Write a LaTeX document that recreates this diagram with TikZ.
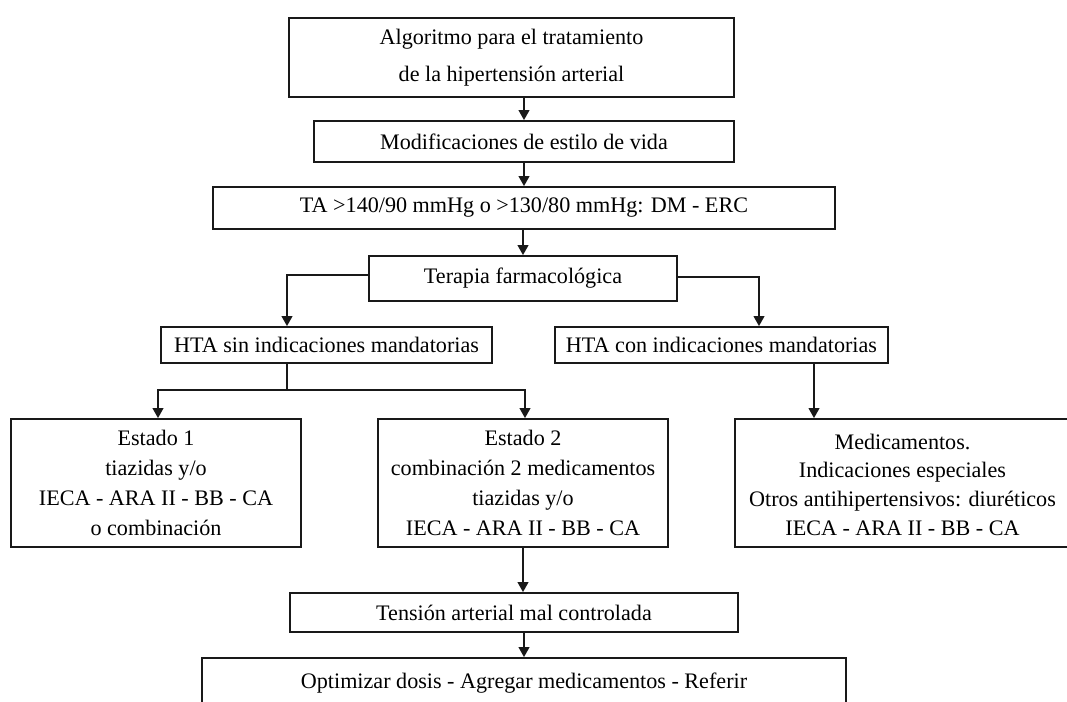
\documentclass[tikz,border=0pt]{standalone}
\usepackage{fontspec}
\setmainfont{Liberation Serif}
\usetikzlibrary{arrows.meta,calc}
\begin{document}
\begin{tikzpicture}[x=0.75pt,y=-0.75pt,
  box/.style={draw=black!90, line width=1.3pt, inner sep=0pt, align=center,
    font=\fontsize{16.6}{22.5}\selectfont},
  sz/.style 2 args={minimum width=#1*0.75pt, minimum height=#2*0.75pt},
  ln/.style={draw=black!90, line width=1.3pt},
  arr/.style={ln, -{Triangle[length=7.5pt,width=8pt]}}]
\useasboundingbox (0,0) rectangle (1067,702);

\node[box, sz={445}{79}, font=\fontsize{16.6}{27.75}\selectfont] (title) at (511.5,57.5)
  {Algoritmo para el tratamiento\\de la hipertensión arterial};
\node[box, sz={420}{41}] (mod) at (524,141.5) {Modificaciones de estilo de vida};
\node[box, sz={622}{42}] (ta) at (524,208) {TA >140/90 mmHg o >130/80 mmHg: DM - ERC};
\node[box, sz={308}{45}] (ter) at (523,278.5) {Terapia farmacológica};
\node[box, sz={331}{36}] (sin) at (326.5,345) {HTA sin indicaciones mandatorias};
\node[box, sz={333}{36}] (con) at (721.5,345) {HTA con indicaciones mandatorias};
\node[box, sz={290}{128}] (e1) at (156,483)
  {Estado 1\\tiazidas y/o\\IECA - ARA II - BB - CA\\o combinación};
\node[box, sz={290}{128}] (e2) at (523,483)
  {Estado 2\\combinación 2 medicamentos\\tiazidas y/o\\IECA - ARA II - BB - CA};
\node[box, sz={335}{128}, font=\fontsize{16.6}{21.5}\selectfont] (med) at (902.5,483)
  {\rule{0pt}{14pt}Medicamentos.\\Indicaciones especiales\\Otros antihipertensivos: diuréticos\\IECA - ARA II - BB - CA};
\node[box, sz={448}{39}] (mal) at (514,612.5) {Tensión arterial mal controlada};
\node[box, sz={644}{50}] (opt) at (524,683) {Optimizar dosis - Agregar medicamentos - Referir};

\draw[arr] (mod.north |- title.south) -- (mod.north);
\draw[arr] (mod.south) -- (ta.north);
\draw[arr] (ter.north |- ta.south) -- (ter.north);
\draw[arr] ($(ter.west)+(0,-3.5)$) -| ($(sin.north)+(-39.5,0)$);
\draw[arr] ($(ter.east)+(0,-1.5)$) -| ($(con.north)+(37.5,0)$);
\coordinate (s5) at ($(sin.south)+(-39.5,0)$);
\coordinate (split) at ($(s5)+(0,26)$);
\draw[ln] (s5) -- (split);
\draw[arr] (split) -| ($(e1.north)+(2,0)$);
\draw[arr] (split) -| ($(e2.north)+(2,0)$);
\coordinate (c6) at ($(con.south)+(92.5,0)$);
\draw[arr] (c6) -- (c6 |- med.north);
\draw[arr] (e2.south) -- (e2.south |- mal.north);
\draw[arr] (opt.north |- mal.south) -- (opt.north);
\end{tikzpicture}
\end{document}
